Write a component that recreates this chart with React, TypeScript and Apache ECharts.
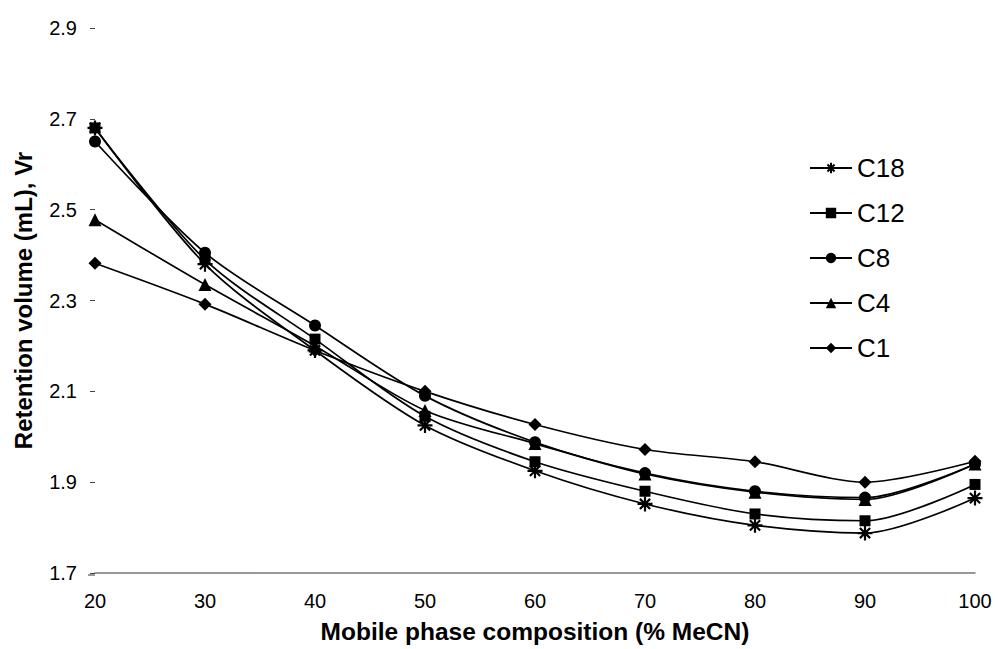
import React, { useEffect, useRef } from "react";
import * as echarts from "echarts";

const composition = [20, 30, 40, 50, 60, 70, 80, 90, 100];
const c18 = [2.68, 2.38, 2.19, 2.025, 1.925, 1.852, 1.805, 1.788, 1.865];
const c12 = [2.68, 2.39, 2.215, 2.045, 1.945, 1.88, 1.83, 1.815, 1.895];
const c8 = [2.65, 2.405, 2.245, 2.09, 1.988, 1.92, 1.88, 1.866, 1.94];
const c4 = [2.478, 2.335, 2.2, 2.058, 1.985, 1.918, 1.878, 1.862, 1.94];
const c1 = [2.382, 2.292, 2.19, 2.1, 2.027, 1.972, 1.945, 1.9, 1.946];
const seriesNames = ["C18", "C12", "C8", "C4", "C1"];
const yTicks = { min: 1.7, max: 2.9, step: 0.2 };

const ASTERISK = "path://M0,5L10,5M5,0L5,10M1.6,1.6L8.4,8.4M8.4,1.6L1.6,8.4";

export default function App() {
  const ref = useRef<HTMLDivElement>(null);
  useEffect(() => {
    if (!ref.current) return;
    const chart = echarts.init(ref.current, undefined, { renderer: "svg" });
    const values = [c18, c12, c8, c4, c1];
    const symbols = [ASTERISK, "rect", "circle", "triangle", "diamond"];
    const sizes = [15, 11, 12, 13, 13];
    const font = "Liberation Sans, Arial, sans-serif";
    chart.setOption({
      animation: false,
      backgroundColor: "#fff",
      grid: { left: 95, right: 23, top: 28, bottom: 74 },
      legend: {
        orient: "vertical",
        left: 804,
        top: 150,
        itemWidth: 42,
        itemHeight: 13,
        itemGap: 19,
        textStyle: { fontSize: 26, lineHeight: 26, color: "#000", fontFamily: font },
        data: seriesNames,
      },
      xAxis: {
        type: "value",
        min: 20,
        max: 100,
        interval: 10,
        name: "Mobile phase composition (% MeCN)",
        nameLocation: "middle",
        nameGap: 46,
        nameTextStyle: { fontSize: 24.5, fontWeight: "bold", color: "#000", fontFamily: font },
        axisLine: { show: true, lineStyle: { color: "#777", width: 1.5 } },
        axisTick: { show: false },
        splitLine: { show: false },
        axisLabel: { fontSize: 20, color: "#000", fontFamily: font, margin: 18 },
      },
      yAxis: {
        type: "value",
        min: yTicks.min,
        max: yTicks.max,
        interval: yTicks.step,
        name: "Retention volume (mL), Vr",
        nameLocation: "middle",
        nameGap: 60,
        nameTextStyle: { fontSize: 24, fontWeight: "bold", color: "#000", fontFamily: font },
        axisLine: { show: false },
        axisTick: { show: true, length: 5, lineStyle: { color: "#444" } },
        splitLine: { show: false },
        axisLabel: {
          fontSize: 20,
          color: "#000",
          fontFamily: font,
          margin: 18,
          formatter: (v: number) => v.toFixed(1),
        },
      },
      graphic: [
        {
          type: "line",
          shape: { x1: 88, y1: 575, x2: 95, y2: 575 },
          style: { stroke: "#777", lineWidth: 1.5 },
        },
      ],
      series: seriesNames.map((name, i) => ({
        name,
        type: "line",
        smooth: 0.3,
        data: composition.map((x, j) => [x, values[i][j]]),
        symbol: symbols[i],
        symbolSize: sizes[i],
        showAllSymbol: true,
        lineStyle: { color: "#000", width: 1.7 },
        itemStyle: {
          color: "#000",
          borderColor: "#000",
          borderWidth: i === 0 ? 2.2 : 0,
        },
      })),
    });
    return () => chart.dispose();
  }, []);
  return (
    <div
      ref={ref}
      style={{ position: "absolute", left: 0, top: 0, width: 998, height: 649 }}
    />
  );
}
